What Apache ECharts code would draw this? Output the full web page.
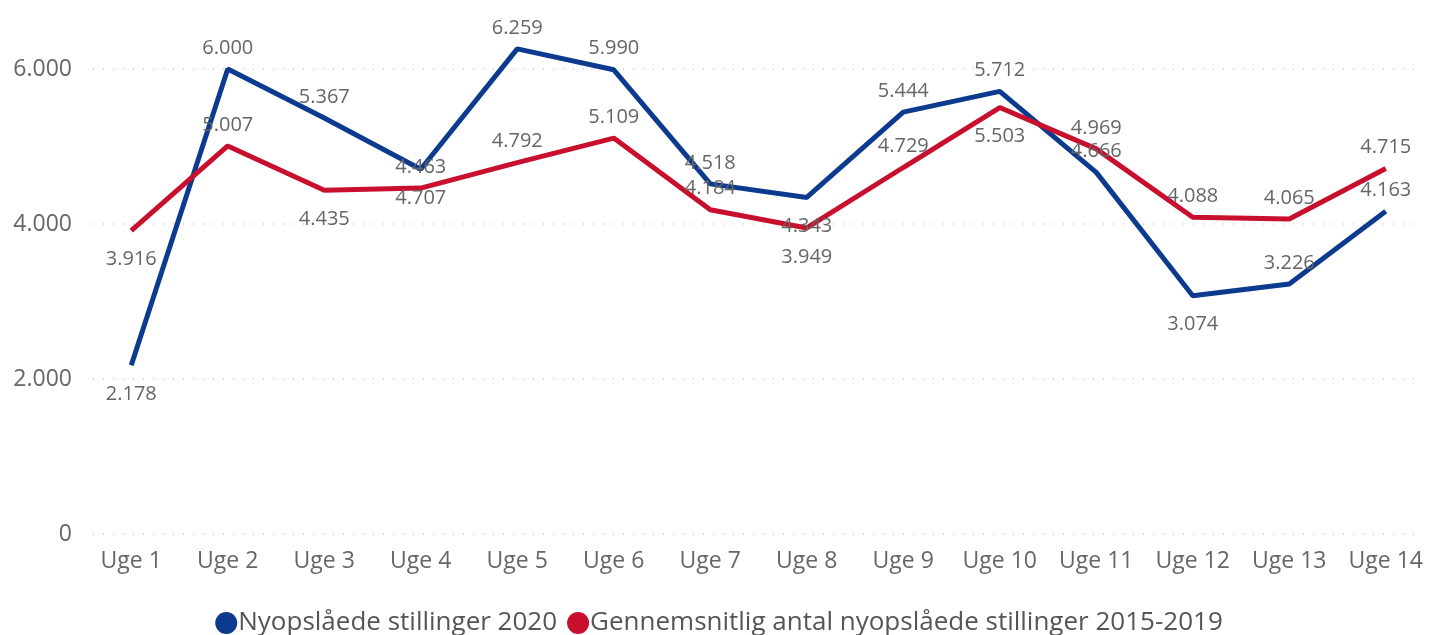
<!DOCTYPE html>
<html>
<head>
<meta charset="utf-8">
<script src="https://cdn.jsdelivr.net/npm/echarts@6/dist/echarts.min.js"></script>
<style>
  html, body { margin: 0; padding: 0; background: #fff; }
  #chart { width: 1438px; height: 635px; }
</style>
</head>
<body>
<div id="chart"></div>
<script>
// uger
const categories = ['Uge 1', 'Uge 2', 'Uge 3', 'Uge 4', 'Uge 5', 'Uge 6', 'Uge 7',
  'Uge 8', 'Uge 9', 'Uge 10', 'Uge 11', 'Uge 12', 'Uge 13', 'Uge 14'];
// nyopslåede stillinger 2020
const values2020 = [2178, 6000, 5367, 4707, 6259, 5990, 4518, 4343, 5444, 5712, 4666, 3074, 3226, 4163];
// gennemsnit 2015-2019
const valuesAvg = [3916, 5007, 4435, 4463, 4792, 5109, 4184, 3949, 4729, 5503, 4969, 4088, 4065, 4715];
const yTicks = [0, 2000, 4000, 6000];

const seriesNames = ['Nyopslåede stillinger 2020', 'Gennemsnitlig antal nyopslåede stillinger 2015-2019'];

// placering af datalabels (t = over, b = under)
const pos2020 = 'bttbtttbtttbtt';
const posAvg = 'btbttttbtbtttt';

const fmt = v => String(v).replace(/\B(?=(\d{3})+(?!\d))/g, '.');
const font = '"Open Sans", "Noto Sans", sans-serif';

function withLabels(values, pos) {
  return values.map((v, i) => ({
    value: v,
    label: pos[i] === 't'
      ? { position: 'top', distance: 11 }
      : { position: 'bottom', distance: 19 }
  }));
}

function lineSeries(name, values, pos, color) {
  return {
    name,
    type: 'line',
    data: withLabels(values, pos),
    symbol: 'circle',
    symbolSize: 0,
    itemStyle: { color },
    lineStyle: { color, width: 5 },
    clip: false,
    label: {
      show: true,
      color: '#666',
      fontSize: 20,
      fontFamily: font,
      formatter: p => fmt(p.value)
    },
    emphasis: { disabled: true }
  };
}

const chart = echarts.init(document.getElementById('chart'));
chart.setOption({
  animation: false,
  grid: [
    { left: 83, right: 4, top: 69, bottom: 101 },
    { left: 93, right: 23, top: 69, bottom: 101 }
  ],
  legend: {
    data: seriesNames.map(n => ({ name: n, icon: 'circle' })),
    left: 'center',
    top: 605,
    itemWidth: 22,
    itemHeight: 22,
    itemGap: 10,
    textStyle: { fontSize: 26, color: '#555', fontFamily: font, padding: [0, 0, 0, -4] }
  },
  xAxis: [
    {
      type: 'category',
      gridIndex: 0,
      data: categories,
      boundaryGap: true,
      axisLine: { show: false },
      axisTick: { show: false },
      axisLabel: { color: '#666', fontSize: 23, fontFamily: font, margin: 16, interval: 0 }
    },
    { type: 'value', gridIndex: 1, show: false }
  ],
  yAxis: [
    {
      type: 'value',
      gridIndex: 0,
      min: yTicks[0],
      max: yTicks[yTicks.length - 1],
      interval: 2000,
      show: false
    },
    {
      type: 'value',
      gridIndex: 1,
      min: yTicks[0],
      max: yTicks[yTicks.length - 1],
      interval: 2000,
      axisLine: { show: false },
      axisTick: { show: false },
      axisLabel: { color: '#666', fontSize: 23, fontFamily: font, margin: 21, formatter: v => fmt(v) },
      splitLine: { lineStyle: { color: '#c8c8c8', type: [1, 9], width: 1.5 } }
    }
  ],
  series: [
    lineSeries(seriesNames[0], values2020, pos2020, '#0B3A8F'),
    lineSeries(seriesNames[1], valuesAvg, posAvg, '#C8102E')
  ]
});
</script>
</body>
</html>
